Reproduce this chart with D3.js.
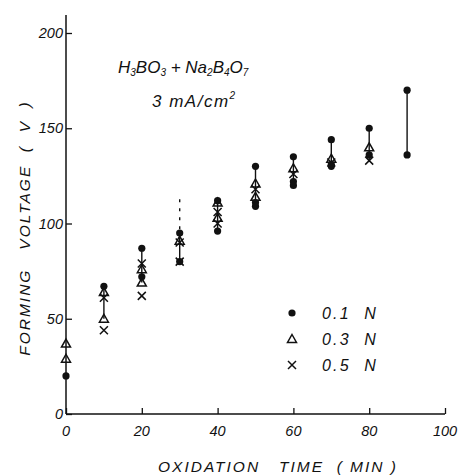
<!DOCTYPE html>
<html><head><meta charset="utf-8">
<script src="https://cdn.jsdelivr.net/npm/d3@7/dist/d3.min.js"></script>
<style>body{margin:0;background:#fff}svg{display:block}text{font-family:"Liberation Sans",Arial,sans-serif;font-style:italic;fill:#111}</style>
</head><body>
<script>
const xTicks = [0, 20, 40, 60, 80, 100];
const yTicks = [0, 50, 100, 150, 200];
const series01 = [[0,20],[10,67],[20,87],[20,72],[30,95],[30,80],[40,112],[40,96],[50,130],[50,111],[50,109],[60,135],[60,122],[60,120],[70,144],[70,131],[70,130],[80,150],[80,136],[90,170],[90,136]];
const series03 = [[0,37],[0,29],[10,64],[10,50],[20,76],[20,69],[30,91],[40,111],[40,103],[50,121],[50,114],[60,129],[70,134],[80,140]];
const series05 = [[10,61],[10,44],[20,79],[20,62],[30,90],[30,80],[40,106],[40,100],[50,118],[60,126],[70,132],[80,133]];
const ranges = [[10,50,67,false],[20,69,87,false],[30,80,95,false],[30,97,114,true],[40,96,112,false],[50,111,130,false],[60,120,135,false],[70,130,144,false],[80,133,150,false],[90,136,170,false]];
const legendLabels = ["0.1 N","0.3 N","0.5 N"];

const W=466,H=476;
const svg=d3.select("body").append("svg").attr("width",W).attr("height",H);
const x=d3.scaleLinear().domain([0,100]).range([66,445]);
const y=d3.scaleLinear().domain([0,200]).range([414,33]);

// axes
svg.append("line").attr("x1",x(0)).attr("x2",x(0)).attr("y1",15).attr("y2",y(0)).attr("stroke","#111").attr("stroke-width",1.5);
svg.append("line").attr("x1",x(0)).attr("x2",x(100)).attr("y1",y(0)).attr("y2",y(0)).attr("stroke","#111").attr("stroke-width",1.5);
const yAxis=d3.axisRight(y).tickValues(yTicks).tickSize(6).tickFormat("");
svg.append("g").attr("transform",`translate(${x(0)},0)`).call(yAxis).call(g=>{g.select(".domain").remove();g.selectAll("line").attr("stroke","#111").attr("stroke-width",1.3);});
const xAxis=d3.axisTop(x).tickValues(xTicks).tickSize(6).tickFormat("");
svg.append("g").attr("transform",`translate(0,${y(0)})`).call(xAxis).call(g=>{g.select(".domain").remove();g.selectAll("line").attr("stroke","#111").attr("stroke-width",1.3);});
// tick labels
svg.selectAll(".yl").data(yTicks).enter().append("text").attr("x",63).attr("y",d=>y(d)+5).attr("text-anchor","end").attr("font-size",14.5).text(d=>d);
svg.selectAll(".xl").data(xTicks).enter().append("text").attr("x",d=>x(d)).attr("y",436).attr("text-anchor","middle").attr("font-size",14.5).text(d=>d);

// axis titles
svg.append("text").attr("x",278).attr("y",472).attr("text-anchor","middle").attr("font-size",15.5).attr("letter-spacing",2).attr("xml:space","preserve").text("OXIDATION   TIME  ( MIN )");
svg.append("text").attr("transform","translate(30,228) rotate(-90)").attr("text-anchor","middle").attr("font-size",15.5).attr("letter-spacing",2).attr("xml:space","preserve").text("FORMING   VOLTAGE  (  V  )");

// annotations
const a1=svg.append("text").attr("x",118).attr("y",73).attr("font-size",17);
a1.append("tspan").text("H");a1.append("tspan").attr("font-size",10).attr("dy",3).text("3");
a1.append("tspan").attr("dy",-3).text("BO");a1.append("tspan").attr("font-size",10).attr("dy",3).text("3");
a1.append("tspan").attr("dy",-3).text(" + Na");a1.append("tspan").attr("font-size",10).attr("dy",3).text("2");
a1.append("tspan").attr("dy",-3).text("B");a1.append("tspan").attr("font-size",10).attr("dy",3).text("4");
a1.append("tspan").attr("dy",-3).text("O");a1.append("tspan").attr("font-size",10).attr("dy",3).text("7");
const a2=svg.append("text").attr("x",152).attr("y",107).attr("font-size",17).attr("letter-spacing",1.5);
a2.append("tspan").text("3 mA/cm");a2.append("tspan").attr("font-size",10).attr("dy",-8).text("2");

// range lines
svg.selectAll(".rl").data(ranges).enter().append("line")
 .attr("x1",d=>x(d[0])).attr("x2",d=>x(d[0])).attr("y1",d=>y(d[1])).attr("y2",d=>y(d[2]))
 .attr("stroke","#111").attr("stroke-width",1.4).attr("stroke-dasharray",d=>d[3]?"3,6":null);

// markers
function dot(g,cx,cy){g.append("circle").attr("cx",cx).attr("cy",cy).attr("r",3.6).attr("fill","#111");}
function tri(g,cx,cy){g.append("path").attr("d",`M${cx},${cy-4.5}L${cx+4.5},${cy+3.5}L${cx-4.5},${cy+3.5}Z`).attr("fill","none").attr("stroke","#111").attr("stroke-width",1.5);}
function cross(g,cx,cy){const s=4;g.append("path").attr("d",`M${cx-s},${cy-s}L${cx+s},${cy+s}M${cx-s},${cy+s}L${cx+s},${cy-s}`).attr("stroke","#111").attr("stroke-width",1.5);}
const gm=svg.append("g");
series03.forEach(d=>tri(gm,x(d[0]),y(d[1])));
series05.forEach(d=>cross(gm,x(d[0]),y(d[1])));
series01.forEach(d=>dot(gm,x(d[0]),y(d[1])));

// legend
const lf=[dot,tri,cross];
legendLabels.forEach((l,i)=>{const ly=313+i*26;lf[i](svg,292,ly);
 svg.append("text").attr("x",322).attr("y",ly+5.5).attr("font-size",16).attr("letter-spacing",2.2).attr("xml:space","preserve").text(l.replace(" ","  "));});
</script>
</body></html>
